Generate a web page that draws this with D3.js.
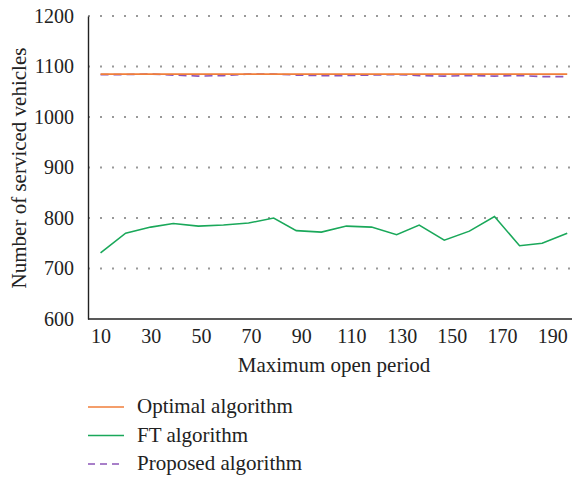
<!DOCTYPE html>
<meta charset="utf-8">
<style>
body { margin: 0; background: #fff; }
svg text { font-family: 'Liberation Serif', 'Times New Roman', 'DejaVu Serif', serif; fill: #222; }
</style>
<svg width="575" height="477"></svg>
<script src="https://d3js.org/d3.v7.min.js"></script>
<script>

// values
var periods = [10, 20, 30, 39, 49, 59, 69, 79, 88, 98, 108, 118, 128, 137, 147, 157, 167, 177, 186, 196];
var optimal = [1085, 1085, 1085, 1085, 1085, 1085, 1085, 1085, 1085, 1085, 1085, 1085, 1085, 1085, 1085, 1085, 1085, 1085, 1085, 1085];
var ft = [731, 770, 782, 789, 784, 786, 790, 800, 775, 772, 784, 782, 767, 786, 756, 774, 803, 745, 750, 770];
var proposed = [1084, 1084, 1085, 1083, 1081, 1082, 1085, 1085, 1083, 1082, 1082, 1083, 1084, 1082, 1081, 1082, 1081, 1082, 1080, 1080];
var xTicks = [10, 30, 50, 70, 90, 110, 130, 150, 170, 190];
var yTicks = [600, 700, 800, 900, 1000, 1100, 1200];

var series = [
  { name: "Optimal algorithm", values: optimal, color: "#f07e3a", dash: null },
  { name: "FT algorithm", values: ft, color: "#1aa85a", dash: null },
  { name: "Proposed algorithm", values: proposed, color: "#8c55b8", dash: "8,5" }
];

var svg = d3.select("svg");

var x = d3.scaleLinear().domain([5, 197.5]).range([88, 571]);
var y = d3.scaleLinear().domain([600, 1200]).range([319, 16]);

// dotted grid
svg.append("g")
  .selectAll("line")
  .data(yTicks.filter(function(d) { return d > 600; }))
  .enter().append("line")
    .attr("x1", 88)
    .attr("x2", 571)
    .attr("y1", function(d) { return y(d); })
    .attr("y2", function(d) { return y(d); })
    .attr("stroke", "#999")
    .attr("stroke-width", 2)
    .attr("stroke-dasharray", "2,10");

// axes
var yAxis = svg.append("g")
    .attr("transform", "translate(88,0)")
    .call(d3.axisLeft(y).tickValues(yTicks).tickSize(0).tickPadding(14).tickFormat(d3.format("d")));
var xAxis = svg.append("g")
    .attr("transform", "translate(0,319)")
    .call(d3.axisBottom(x).tickValues(xTicks).tickSize(0).tickPadding(10));

[xAxis, yAxis].forEach(function(a) {
  a.attr("font-family", null);
  a.select(".domain").attr("stroke", "#222").attr("stroke-width", 1.4);
  a.selectAll("text")
    .attr("font-size", 20)
    .attr("fill", "#222");
});
xAxis.select(".domain").attr("d", "M88,0H572");

// lines
var line = d3.line()
    .x(function(d, i) { return x(periods[i]); })
    .y(function(d) { return y(d); });

svg.append("g")
  .selectAll("path")
  .data([series[1], series[2], series[0]])
  .enter().append("path")
    .attr("d", function(d) { return line(d.values); })
    .attr("fill", "none")
    .attr("stroke", function(d) { return d.color; })
    .attr("stroke-width", 1.6)
    .attr("stroke-dasharray", function(d) { return d.dash; });

// axis titles
svg.append("text")
    .attr("x", 334)
    .attr("y", 372)
    .attr("text-anchor", "middle")
    .attr("font-size", 21)
    .text("Maximum open period");

svg.append("text")
    .attr("transform", "translate(26,168) rotate(-90)")
    .attr("text-anchor", "middle")
    .attr("font-size", 21)
    .text("Number of serviced vehicles");

// legend
var legend = svg.append("g")
  .selectAll("g")
  .data(series)
  .enter().append("g")
    .attr("transform", function(d, i) { return "translate(88," + (407 + i * 28.5) + ")"; });

legend.append("line")
    .attr("x1", 0)
    .attr("x2", 36)
    .attr("stroke", function(d) { return d.color; })
    .attr("stroke-width", 1.6)
    .attr("stroke-dasharray", function(d) { return d.dash ? "7,5" : null; });

legend.append("text")
    .attr("x", 49)
    .attr("y", 6)
    .attr("font-size", 21)
    .text(function(d) { return d.name; });

</script>
